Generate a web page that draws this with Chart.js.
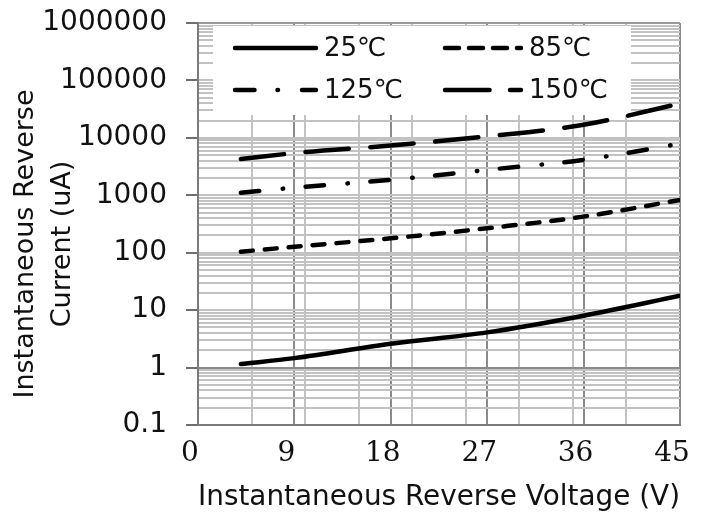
<!DOCTYPE html>
<html>
<head>
<meta charset="utf-8">
<script src="https://cdn.jsdelivr.net/npm/chart.js@4.4.1/dist/chart.umd.min.js"></script>
<style>
html,body{margin:0;padding:0;background:#fff;}
#wrap{width:714px;height:518px;}
</style>
</head>
<body>
<div id="wrap"><canvas id="chart" width="714" height="518"></canvas></div>
<script>
// values
const voltage = [4, 9, 18, 27, 36, 45];
const cur25 = [1.15, 1.46, 2.6, 4.1, 8.0, 17.8];
const cur85 = [104, 127, 178, 267, 425, 830];
const cur125 = [1110, 1360, 1860, 2770, 4150, 7900];
const cur150 = [4270, 5430, 7360, 10600, 16900, 39400];
const seriesNames = ["25℃", "85℃", "125℃", "150℃"];

const xMajor = [0, 9, 18, 27, 36, 45];
const xMinor = [5, 10, 15, 20, 25, 30, 35, 40];
const xTickLabels = ["0", "9", "18", "27", "36", "45"];
const yDecades = [0.1, 1, 10, 100, 1000, 10000, 100000, 1000000];
const yTickLabels = ["0.1", "1", "10", "100", "1000", "10000", "100000", "1000000"];

const xTitle = "Instantaneous Reverse Voltage (V)";
const yTitle = ["Instantaneous Reverse", "Current (uA)"];

// styling
const dashes = [[], [12, 12], [18.5, 23.5, 0.5, 22.5], [43.5, 21.5]];
const legendDashes = [[], [14, 10], [19.5, 23, 0.5, 24], [44.5, 20.5]];
const LIGHT = "#c2c2c2", DARK = "#8a8a8a";

// all grid positions for the log axis: 1..9 per decade
const yGrid = [];
for (let k = -1; k < 6; k++) {
  for (let m = 1; m < 10; m++) yGrid.push(Number((m * Math.pow(10, k)).toPrecision(6)));
}
yGrid.push(1000000);

const xGrid = xMajor.concat(xMinor).sort((a, b) => a - b);

function isDecade(v){
  return yDecades.some(d => Math.abs(v - d) / d < 1e-6);
}

function pts(ys){
  return voltage.map((v, i) => ({x: v, y: ys[i]}));
}

const allSeries = [cur25, cur85, cur125, cur150];

// legend box drawn inside the plot, over the grid
const legendBox = {
  id: "legendBox",
  beforeDatasetsDraw(chart){
    const c = chart.ctx, a = chart.chartArea;
    c.save();
    c.fillStyle = "#fff";
    c.fillRect(a.left + 15, a.top + 3, 418, 89);
    const cols = [a.left + 35, a.left + 245];
    const rows = [a.top + 25, a.top + 67];
    const lens = [85, 80];
    c.font = "26px 'DejaVu Sans'";
    c.textBaseline = "middle";
    c.fillStyle = "#111";
    for (let i = 0; i < seriesNames.length; i++) {
      const col = i % 2, row = Math.floor(i / 2);
      const x = cols[col], y = rows[row];
      c.strokeStyle = "#000";
      c.lineWidth = 4.5;
      c.lineCap = "round";
      c.setLineDash(legendDashes[i]);
      c.beginPath();
      c.moveTo(x + 2, y);
      c.lineTo(x + lens[col] - 2, y);
      c.stroke();
      c.setLineDash([]);
      c.fillText(seriesNames[i], x + lens[col] + 6, y + 1);
    }
    c.restore();
  }
};

// two-line rotated y title
const yTitlePlugin = {
  id: "yTitle",
  afterDraw(chart){
    const c = chart.ctx, a = chart.chartArea;
    const cy = (a.top + a.bottom) / 2 + 20;
    c.save();
    c.font = "27px 'DejaVu Sans'";
    c.fillStyle = "#111";
    c.textAlign = "center";
    c.textBaseline = "middle";
    [26, 63].forEach((x, i) => {
      c.save();
      c.translate(x, cy);
      c.rotate(-Math.PI / 2);
      c.fillText(yTitle[i], 0, 0);
      c.restore();
    });
    c.restore();
  }
};

new Chart(document.getElementById("chart"), {
  type: "line",
  data: {
    datasets: allSeries.map((s, i) => ({
      label: seriesNames[i],
      data: pts(s),
      borderColor: "#000",
      borderWidth: 4.5,
      borderDash: dashes[i],
      borderCapStyle: "round",
      pointRadius: 0,
      fill: false,
      cubicInterpolationMode: "monotone"
    }))
  },
  options: {
    responsive: false,
    animation: false,
    layout: {padding: {left: 0, right: 34, top: 23, bottom: 0}},
    plugins: {legend: {display: false}, tooltip: {enabled: false}},
    scales: {
      x: {
        type: "linear",
        min: 0, max: 45,
        afterBuildTicks: s => { s.ticks = xGrid.map(v => ({value: v})); },
        afterFit: s => { s.height = 93; },
        grid: {
          color: ctx => (ctx.tick && xMajor.includes(ctx.tick.value)) ? DARK : LIGHT,
          lineWidth: 2,
          drawTicks: false
        },
        border: {display: true, color: "#7a7a7a", width: 2},
        ticks: {
          autoSkip: false,
          maxRotation: 0,
          padding: 12,
          labelOffset: -8,
          color: "#111",
          font: {family: "'DejaVu Serif'", size: 28},
          callback: v => { const i = xMajor.indexOf(v); return i >= 0 ? xTickLabels[i] : ""; }
        },
        title: {
          display: true,
          text: xTitle,
          color: "#111",
          font: {family: "'DejaVu Sans'", size: 29},
          padding: {top: 0, bottom: 3}
        }
      },
      y: {
        type: "logarithmic",
        min: 0.1, max: 1000000,
        afterBuildTicks: s => { s.ticks = yGrid.map(v => ({value: v})); },
        afterFit: s => { s.width = 198; s.paddingTop = 0; s.paddingBottom = 0; },
        grid: {
          color: ctx => {
            if (!ctx.tick) return LIGHT;
            const v = ctx.tick.value;
            if (Math.abs(v - 1) < 1e-9) return DARK;
            if (v >= 999999) return "#9a9a9a";
            return LIGHT;
          },
          lineWidth: 2,
          tickLength: 12,
          tickColor: ctx => (ctx.tick && isDecade(ctx.tick.value)) ? "#6e6e6e" : "rgba(0,0,0,0)"
        },
        border: {display: true, color: "#7a7a7a", width: 2},
        ticks: {
          autoSkip: false,
          padding: 19,
          color: "#111",
          font: {family: "'DejaVu Sans'", size: 28},
          callback: v => { const i = yDecades.findIndex(d => Math.abs(v - d) / d < 1e-6); return i >= 0 ? yTickLabels[i] : ""; }
        }
      }
    }
  },
  plugins: [legendBox, yTitlePlugin]
});
</script>
</body>
</html>
